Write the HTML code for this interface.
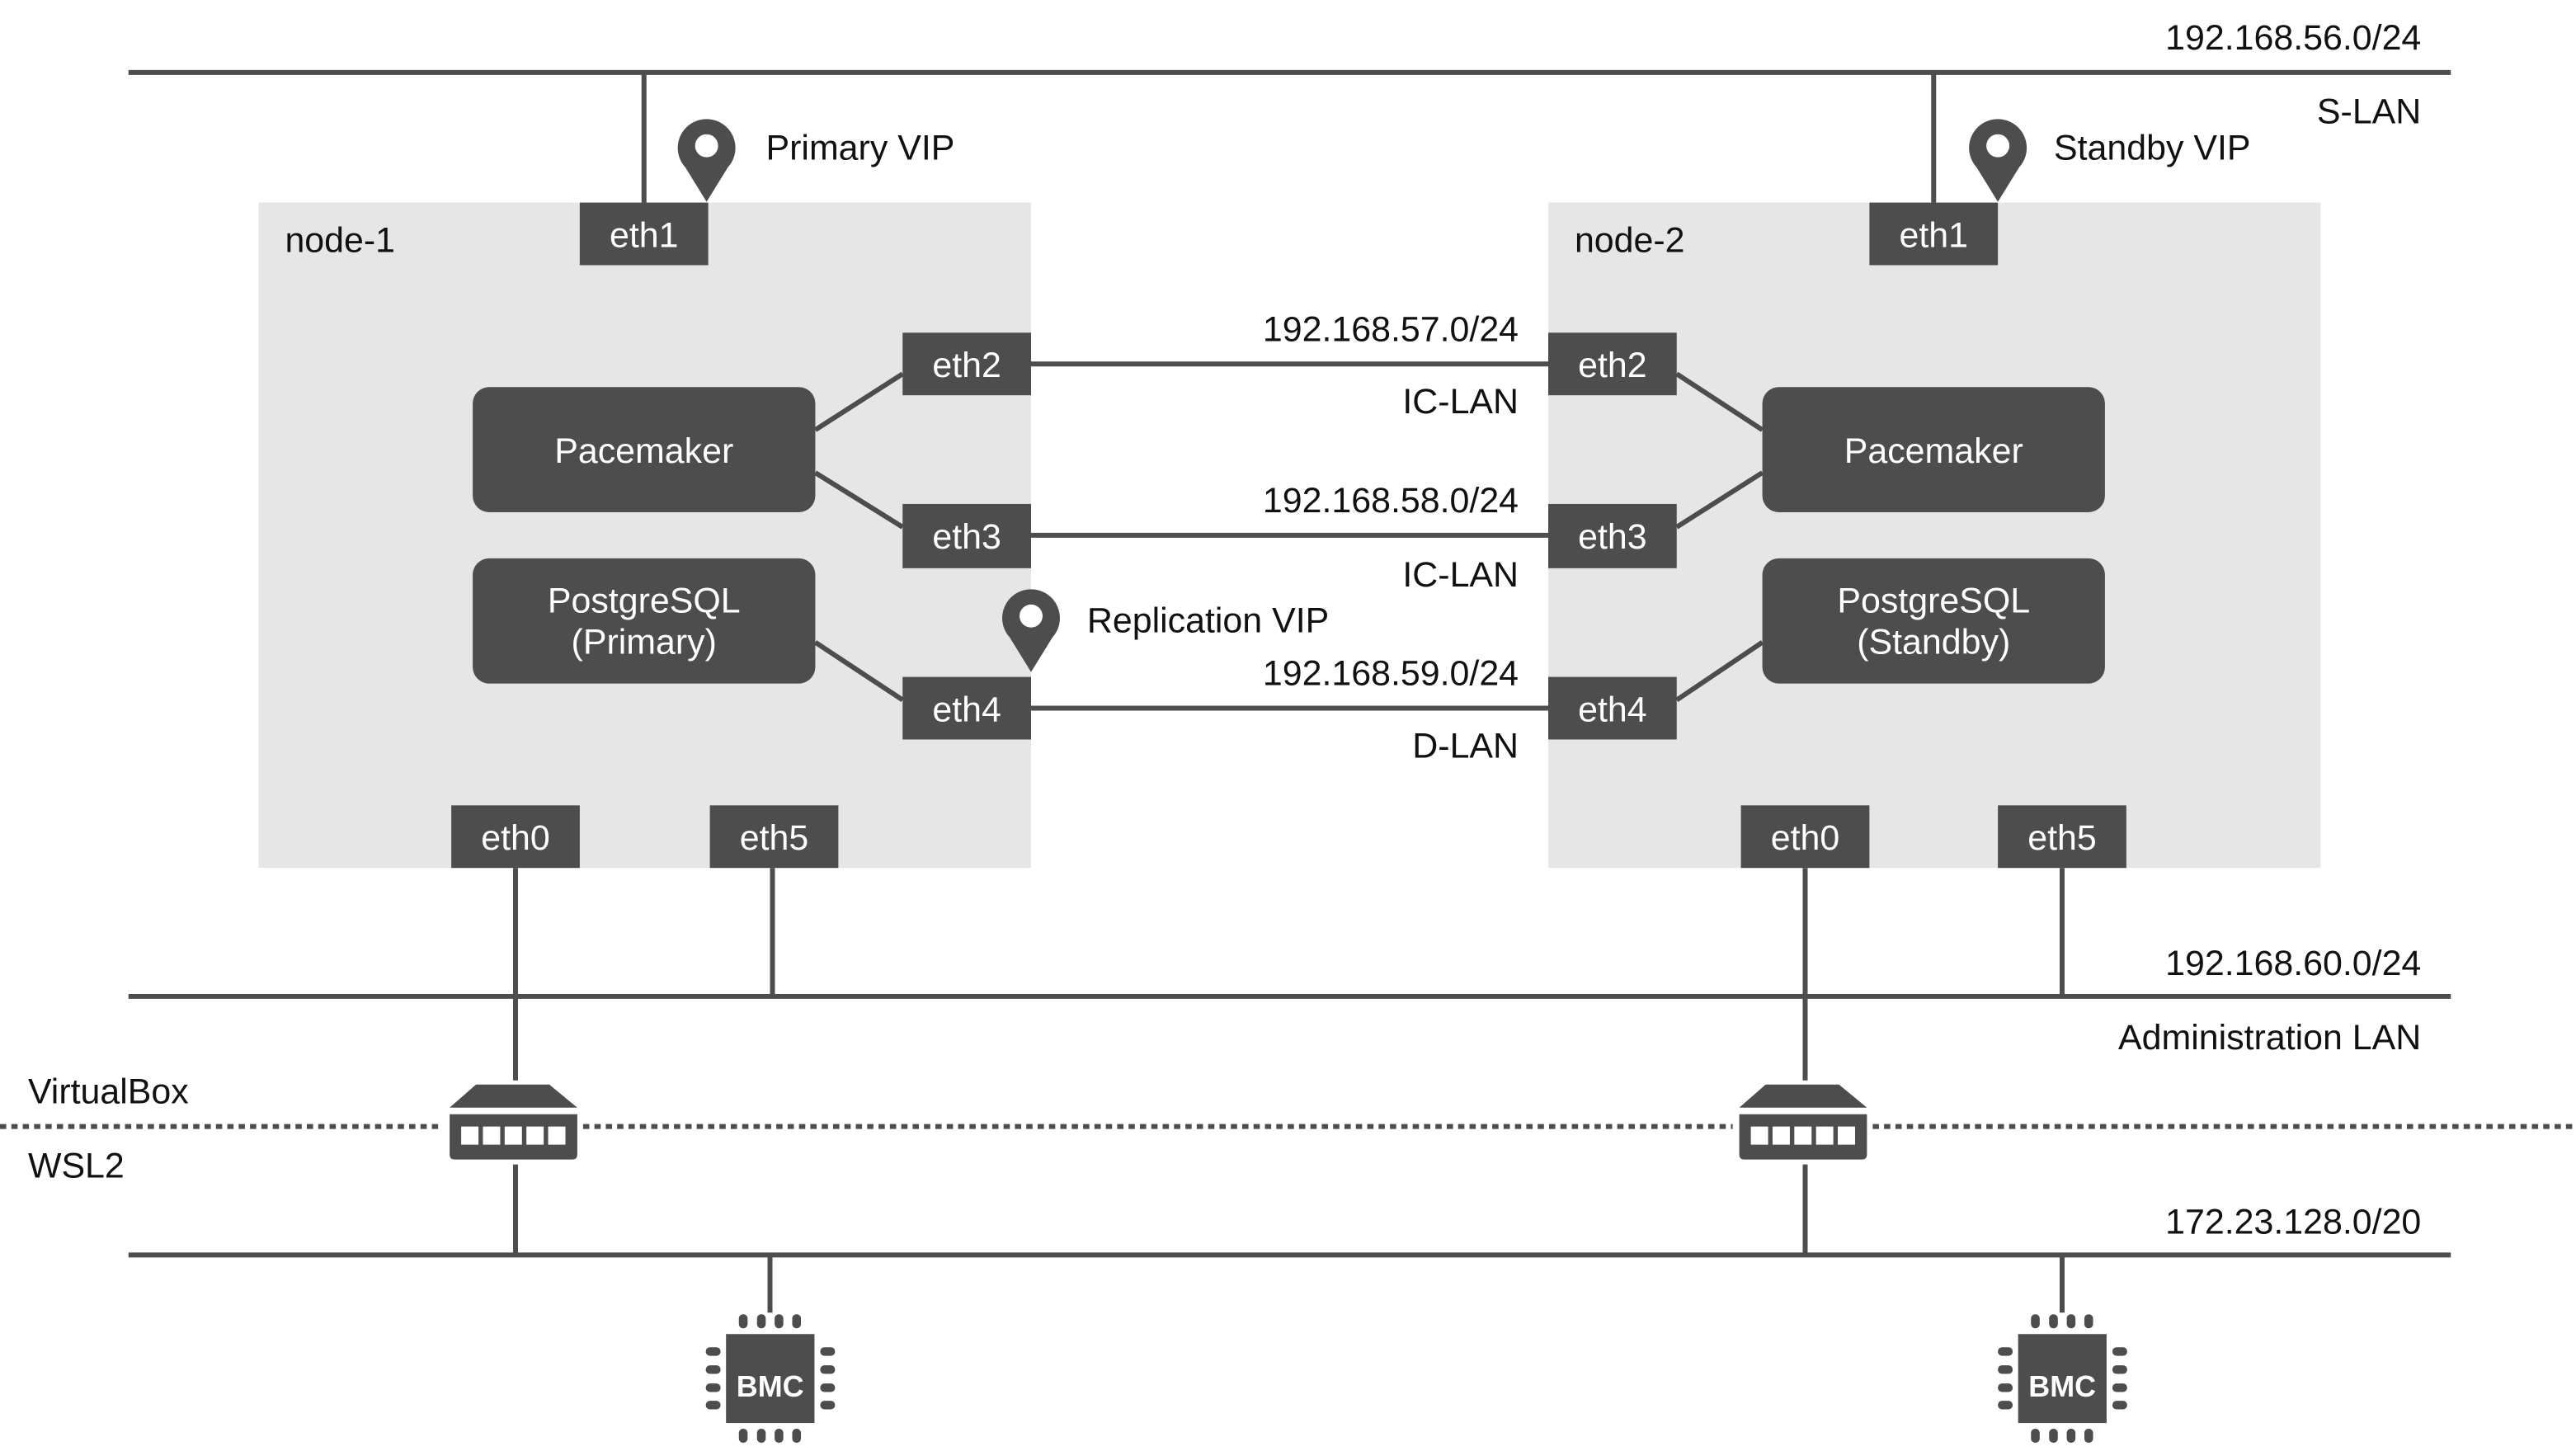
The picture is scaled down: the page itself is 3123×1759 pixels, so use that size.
<!DOCTYPE html>
<html><head><meta charset="utf-8"><style>
html,body{margin:0;padding:0;background:#fff;}
svg{display:block;}
text{font-family:"Liberation Sans",sans-serif;font-size:21.5px;fill:#111;}
.w{fill:#fff;text-anchor:middle;}
.r{text-anchor:end;}
</style></head><body>
<svg width="3123" height="1759" viewBox="0 0 1564 881" preserveAspectRatio="none" xmlns="http://www.w3.org/2000/svg">
<defs>
<g id="pin"><path d="M0,0 L-13,-21 A17.5,17.5 0 1 1 13,-21 Z" fill="#4d4d4d"/><circle cx="0" cy="-34" r="7" fill="#fff"/></g>
<g id="sw">
<polygon points="289,658.5 333.5,658.5 350.5,672.5 273,672.5" fill="#4d4d4d"/>
<path d="M273,676.5 H350.5 V701 Q350.5,704 347.5,704 H276 Q273,704 273,701 Z" fill="#4d4d4d"/>
<rect x="280" y="684" width="10.5" height="11" fill="#fff"/>
<rect x="293.2" y="684" width="10.5" height="11" fill="#fff"/>
<rect x="306.4" y="684" width="10.5" height="11" fill="#fff"/>
<rect x="319.6" y="684" width="10.5" height="11" fill="#fff"/>
<rect x="332.8" y="684" width="10.5" height="11" fill="#fff"/>
</g>
<g id="bmc" fill="#4d4d4d">
<line x1="467.5" y1="762" x2="467.5" y2="797" stroke="#4d4d4d" stroke-width="3"/>
<rect x="440.8" y="810" width="53.7" height="54"/>
<rect x="448.6" y="798" width="5.3" height="8.5" rx="2.5"/><rect x="459.6" y="798" width="5.3" height="8.5" rx="2.5"/><rect x="470.3" y="798" width="5.3" height="8.5" rx="2.5"/><rect x="481" y="798" width="5.3" height="8.5" rx="2.5"/>
<rect x="448.6" y="867.5" width="5.3" height="8.5" rx="2.5"/><rect x="459.6" y="867.5" width="5.3" height="8.5" rx="2.5"/><rect x="470.3" y="867.5" width="5.3" height="8.5" rx="2.5"/><rect x="481" y="867.5" width="5.3" height="8.5" rx="2.5"/>
<rect x="428.5" y="818" width="9" height="5.2" rx="2.5"/><rect x="428.5" y="829" width="9" height="5.2" rx="2.5"/><rect x="428.5" y="840" width="9" height="5.2" rx="2.5"/><rect x="428.5" y="850.5" width="9" height="5.2" rx="2.5"/>
<rect x="498" y="818" width="9" height="5.2" rx="2.5"/><rect x="498" y="829" width="9" height="5.2" rx="2.5"/><rect x="498" y="840" width="9" height="5.2" rx="2.5"/><rect x="498" y="850.5" width="9" height="5.2" rx="2.5"/>
<text x="467.6" y="848" class="w" style="font-size:18px;font-weight:bold">BMC</text>
</g>
</defs>

<rect x="157" y="123" width="469" height="404" fill="#e6e6e6"/>
<rect x="940" y="123" width="469" height="404" fill="#e6e6e6"/>

<g stroke="#4d4d4d" stroke-width="3" fill="none">
<line x1="78" y1="44" x2="1488" y2="44"/>
<line x1="78" y1="605" x2="1488" y2="605"/>
<line x1="78" y1="762" x2="1488" y2="762"/>
<line x1="391" y1="44" x2="391" y2="123"/>
<line x1="1174" y1="44" x2="1174" y2="123"/>
<line x1="626" y1="221" x2="940" y2="221"/>
<line x1="626" y1="325" x2="940" y2="325"/>
<line x1="626" y1="430" x2="940" y2="430"/>
<line x1="495" y1="261" x2="548" y2="227"/>
<line x1="495" y1="287" x2="548" y2="320"/>
<line x1="495" y1="390" x2="548" y2="425"/>
<line x1="1018" y1="227" x2="1070" y2="261"/>
<line x1="1018" y1="320" x2="1070" y2="287"/>
<line x1="1018" y1="425" x2="1070" y2="390"/>
<line x1="313" y1="527" x2="313" y2="656"/>
<line x1="313" y1="707" x2="313" y2="762"/>
<line x1="469" y1="527" x2="469" y2="605"/>
<line x1="1096" y1="527" x2="1096" y2="656"/>
<line x1="1096" y1="707" x2="1096" y2="762"/>
<line x1="1252" y1="527" x2="1252" y2="605"/>
<line x1="0" y1="684" x2="269" y2="684" stroke-dasharray="3.8 3.1"/>
<line x1="354" y1="684" x2="1052" y2="684" stroke-dasharray="3.8 3.1"/>
<line x1="1137" y1="684" x2="1564" y2="684" stroke-dasharray="3.8 3.1"/>
</g>

<use href="#sw"/>
<use href="#sw" transform="translate(783,0)"/>
<use href="#bmc"/>
<use href="#bmc" transform="translate(784.5,0)"/>

<use href="#pin" transform="translate(429,122.5)"/>
<use href="#pin" transform="translate(1213,122.5)"/>
<use href="#pin" transform="translate(626,408)"/>

<g fill="#4d4d4d">
<rect x="352" y="123" width="78" height="38"/>
<rect x="1135" y="123" width="78" height="38"/>
<rect x="548" y="202" width="78" height="38"/>
<rect x="548" y="306" width="78" height="39"/>
<rect x="548" y="411" width="78" height="38"/>
<rect x="940" y="202" width="78" height="38"/>
<rect x="940" y="306" width="78" height="39"/>
<rect x="940" y="411" width="78" height="38"/>
<rect x="274" y="489" width="78" height="38"/>
<rect x="431" y="489" width="78" height="38"/>
<rect x="1057" y="489" width="78" height="38"/>
<rect x="1213" y="489" width="78" height="38"/>
<rect x="287" y="235" width="208" height="76" rx="10"/>
<rect x="287" y="339" width="208" height="76" rx="10"/>
<rect x="1070" y="235" width="208" height="76" rx="10"/>
<rect x="1070" y="339" width="208" height="76" rx="10"/>
</g>
<text class="w" x="391" y="150">eth1</text>
<text class="w" x="1174" y="150">eth1</text>
<text class="w" x="587" y="229">eth2</text>
<text class="w" x="587" y="333">eth3</text>
<text class="w" x="587" y="438">eth4</text>
<text class="w" x="979" y="229">eth2</text>
<text class="w" x="979" y="333">eth3</text>
<text class="w" x="979" y="438">eth4</text>
<text class="w" x="313" y="516">eth0</text>
<text class="w" x="470" y="516">eth5</text>
<text class="w" x="1096" y="516">eth0</text>
<text class="w" x="1252" y="516">eth5</text>
<text class="w" x="391" y="281">Pacemaker</text>
<text class="w" x="1174" y="281">Pacemaker</text>
<text class="w" x="391" y="372">PostgreSQL</text>
<text class="w" x="391" y="397">(Primary)</text>
<text class="w" x="1174" y="372">PostgreSQL</text>
<text class="w" x="1174" y="397">(Standby)</text>

<text x="173" y="153">node-1</text>
<text x="956" y="153">node-2</text>
<text x="465" y="97">Primary VIP</text>
<text x="1247" y="97">Standby VIP</text>
<text x="660" y="384">Replication VIP</text>
<text class="r" x="1470" y="30">192.168.56.0/24</text>
<text class="r" x="1470" y="75">S-LAN</text>
<text class="r" x="922" y="207">192.168.57.0/24</text>
<text class="r" x="922" y="251">IC-LAN</text>
<text class="r" x="922" y="311">192.168.58.0/24</text>
<text class="r" x="922" y="356">IC-LAN</text>
<text class="r" x="922" y="416">192.168.59.0/24</text>
<text class="r" x="922" y="460">D-LAN</text>
<text class="r" x="1470" y="592">192.168.60.0/24</text>
<text class="r" x="1470" y="637">Administration LAN</text>
<text class="r" x="1470" y="749">172.23.128.0/20</text>
<text x="17" y="670">VirtualBox</text>
<text x="17" y="715">WSL2</text>
</svg>
</body></html>
